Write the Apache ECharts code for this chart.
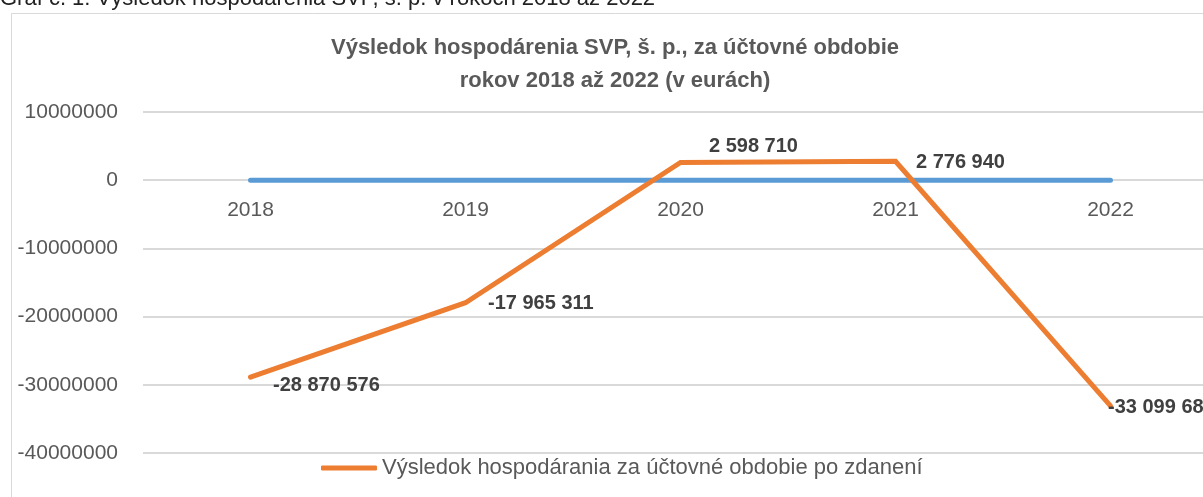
<!DOCTYPE html>
<html>
<head>
<meta charset="utf-8">
<script src="https://cdn.jsdelivr.net/npm/echarts@6/dist/echarts.min.js"></script>
<style>
  html, body { margin: 0; padding: 0; background: #fff; overflow: hidden; }
  #chart { width: 1218px; height: 497px; }
</style>
</head>
<body>
<div id="chart"></div>
<script>
"use strict";

const years = ["2018", "2019", "2020", "2021", "2022"];
const result = [-28870576, -17965311, 2598710, 2776940, -33099684];
const baseline = [0, 0, 0, 0, 0];
const yTicks = { min: -40000000, max: 10000000, step: 10000000 };

const FONT = "'Liberation Sans', Arial, sans-serif";
const GREY = "#595959";

// per-point label offsets, tuned by eye
const labelOffsets = [[16, 8], [16, 1], [22, -16], [14, 1], [-9, 2]];

const fmtSpace = (v) => {
  const s = String(Math.abs(v)).replace(/\B(?=(\d{3})+(?!\d))/g, " ");
  return (v < 0 ? "-" : "") + s;
};

const chart = echarts.init(document.getElementById("chart"));

chart.setOption({
  animation: false,
  backgroundColor: "#fff",
  textStyle: { fontFamily: FONT },
  graphic: [
    { type: "rect", shape: { x: 11.5, y: 13.5, width: 1300, height: 600 },
      style: { fill: "none", stroke: "#d9d9d9", lineWidth: 1 }, z: -1 },
    { type: "text", x: 0, y: -12,
      style: { text: "Graf č. 1: Výsledok hospodárenia SVP, š. p. v rokoch 2018 až 2022",
        font: "22px " + FONT, fill: "#222" } },
    { type: "text", x: 615, y: 31,
      style: { text: "Výsledok hospodárenia SVP, š. p., za účtovné obdobie\nrokov 2018 až 2022 (v eurách)",
        font: "bold 22px " + FONT, fill: GREY, align: "center", lineHeight: 33 } },
  ],
  legend: {
    data: ["Výsledok hospodárania za účtovné obdobie po zdanení"],
    left: 316, top: 452,
    itemWidth: 56, itemHeight: 5, itemGap: 3,
    icon: "roundRect",
    textStyle: { fontSize: 22, color: GREY, fontFamily: FONT },
  },
  grid: { left: 143, right: 0, top: 112, bottom: 44 },
  xAxis: {
    type: "category",
    data: years,
    boundaryGap: true,
    offset: -273,
    axisLine: { show: false },
    axisTick: { show: false },
    axisLabel: { color: GREY, fontSize: 21, margin: 20, fontFamily: FONT },
  },
  yAxis: {
    type: "value",
    min: yTicks.min, max: yTicks.max, interval: yTicks.step,
    axisLine: { show: false },
    axisTick: { show: false },
    axisLabel: { color: GREY, fontSize: 21, margin: 25, fontFamily: FONT,
      formatter: (v) => String(v) },
    splitLine: { lineStyle: { color: "#d9d9d9", width: 2 } },
  },
  series: [
    {
      name: "nula",
      type: "line",
      data: baseline,
      showSymbol: false,
      lineStyle: { color: "#5b9bd5", width: 5, cap: "round" },
      itemStyle: { color: "#5b9bd5" },
      z: 2,
    },
    {
      name: "Výsledok hospodárania za účtovné obdobie po zdanení",
      type: "line",
      data: result.map((v, i) => ({
        value: v,
        label: { offset: labelOffsets[i] },
      })),
      showSymbol: true,
      symbol: "circle",
      symbolSize: 3,
      lineStyle: { color: "#ed7d31", width: 5, cap: "round", join: "miter" },
      itemStyle: { color: "#ed7d31" },
      label: {
        show: true,
        position: "right",
        distance: 5,
        fontSize: 20,
        fontWeight: "bold",
        color: "#404040",
        fontFamily: FONT,
        formatter: (p) => fmtSpace(p.value),
      },
      z: 3,
    },
  ],
});
</script>
</body>
</html>
